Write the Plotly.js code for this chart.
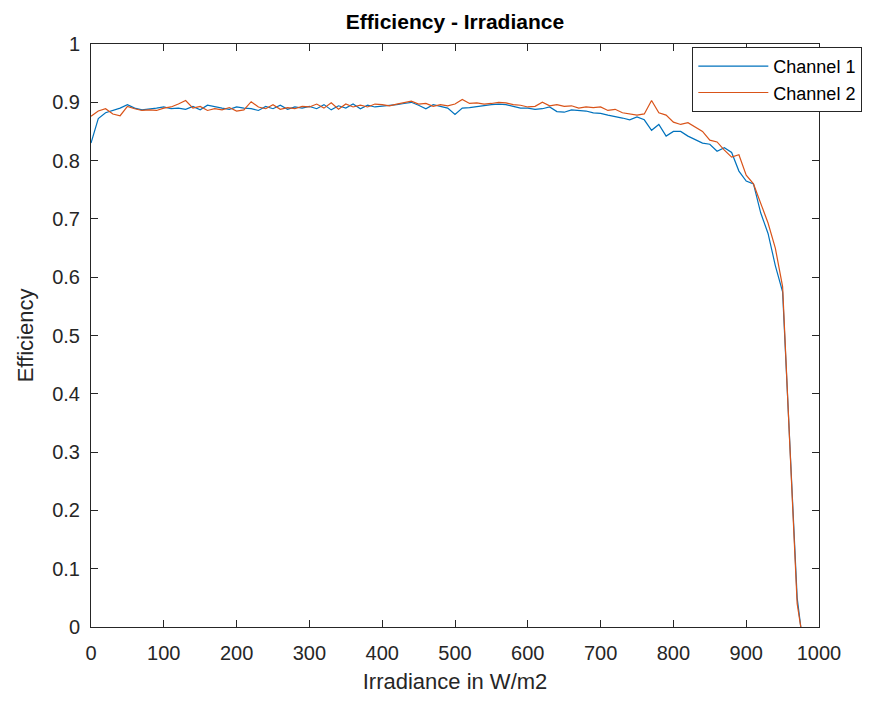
<!DOCTYPE html>
<html>
<head>
<meta charset="utf-8">
<script src="https://cdn.plot.ly/plotly-3.0.1.min.js"></script>
<style>html,body{margin:0;padding:0;background:#fff;}#chart{width:874px;height:702px;}</style>
</head>
<body>
<div id="chart"></div>
<script>
const irradiance = [0,10,20,30,40,50,60,70,80,90,100,110,120,130,140,150,160,170,180,190,200,210,220,230,240,250,260,270,280,290,300,310,320,330,340,350,360,370,380,390,400,410,420,430,440,450,460,470,480,490,500,510,520,530,540,550,560,570,580,590,600,610,620,630,640,650,660,670,680,690,700,710,720,730,740,750,760,770,780,790,800,810,820,830,840,850,860,870,880,890,900,910,920,930,940,950,960,970,975];

const channel1 = [0.830,0.872,0.882,0.886,0.890,0.896,0.890,0.887,0.888,0.890,0.892,0.889,0.890,0.888,0.893,0.887,0.895,0.892,0.890,0.888,0.892,0.890,0.889,0.886,0.893,0.889,0.895,0.888,0.892,0.890,0.893,0.889,0.896,0.887,0.894,0.890,0.897,0.889,0.895,0.892,0.893,0.895,0.896,0.898,0.900,0.895,0.889,0.896,0.893,0.890,0.879,0.890,0.891,0.893,0.895,0.896,0.897,0.896,0.893,0.890,0.890,0.888,0.889,0.892,0.884,0.883,0.887,0.886,0.885,0.882,0.881,0.878,0.876,0.873,0.870,0.875,0.870,0.852,0.862,0.842,0.850,0.850,0.842,0.836,0.830,0.828,0.816,0.822,0.814,0.782,0.765,0.760,0.710,0.675,0.620,0.575,0.300,0.050,0.000];

const channel2 = [0.876,0.885,0.889,0.880,0.877,0.893,0.889,0.886,0.887,0.886,0.890,0.892,0.897,0.903,0.890,0.893,0.886,0.889,0.887,0.891,0.885,0.887,0.901,0.892,0.889,0.896,0.888,0.891,0.889,0.893,0.892,0.897,0.890,0.899,0.888,0.897,0.892,0.895,0.892,0.897,0.896,0.894,0.897,0.899,0.902,0.897,0.898,0.893,0.896,0.894,0.897,0.905,0.898,0.899,0.897,0.898,0.900,0.899,0.896,0.895,0.892,0.893,0.900,0.894,0.896,0.893,0.894,0.890,0.892,0.891,0.892,0.886,0.888,0.882,0.880,0.878,0.880,0.903,0.882,0.878,0.866,0.862,0.865,0.858,0.850,0.835,0.832,0.818,0.806,0.810,0.775,0.760,0.728,0.693,0.650,0.584,0.310,0.040,0.000];

const seriesNames = ['Channel 1','Channel 2'];
const seriesColors = ['#0072BD','#D95319'];
const xTicks = [0,100,200,300,400,500,600,700,800,900,1000];
const yTicks = [0,0.1,0.2,0.3,0.4,0.5,0.6,0.7,0.8,0.9,1];
const yTickText = ['0','0.1','0.2','0.3','0.4','0.5','0.6','0.7','0.8','0.9','1'];

const axisColor = '#262626';
const font = 'Liberation Sans, Arial, sans-serif';

const traces = [channel1, channel2].map((ys, i) => ({
  x: irradiance, y: ys, type: 'scatter', mode: 'lines',
  name: seriesNames[i],
  line: {color: seriesColors[i], width: 1.2}
}));

const layout = {
  width: 874, height: 702,
  paper_bgcolor: '#fff', plot_bgcolor: '#fff',
  margin: {l: 91, r: 47, t: 44, b: 75},
  font: {family: font, color: axisColor, size: 20},
  title: {text: '<b>Efficiency - Irradiance</b>', font: {size: 21, color: '#000'},
          x: 0.5, xref: 'paper', y: 1 - 22/702, yref: 'container', yanchor: 'middle'},
  showlegend: true,
  legend: {x: 0.826, y: 0.995, xanchor: 'left', yanchor: 'top',
           bgcolor: '#fff', bordercolor: axisColor, borderwidth: 1,
           font: {size: 18, color: '#000'}, itemwidth: 70, tracegroupgap: 0},
  xaxis: {range: [0, 1000], tickvals: xTicks, ticks: 'inside', ticklen: 7, tickcolor: axisColor,
          showline: true, linecolor: axisColor, linewidth: 1, mirror: 'ticks', showgrid: false, zeroline: false,
          tickfont: {size: 20, color: axisColor}, ticklabelstandoff: 8,
          title: {text: 'Irradiance in W/m2', font: {size: 22, color: axisColor}, standoff: 10}},
  yaxis: {range: [0, 1], tickvals: yTicks, ticktext: yTickText, ticks: 'inside', ticklen: 7, tickcolor: axisColor,
          showline: true, linecolor: axisColor, linewidth: 1, mirror: 'ticks', showgrid: false, zeroline: false,
          tickfont: {size: 20, color: axisColor}, ticklabelstandoff: 6,
          title: {text: 'Efficiency', font: {size: 22, color: axisColor}, standoff: 12}}
};

Plotly.newPlot('chart', traces, layout, {displayModeBar: false, staticPlot: true});
</script>
</body>
</html>
